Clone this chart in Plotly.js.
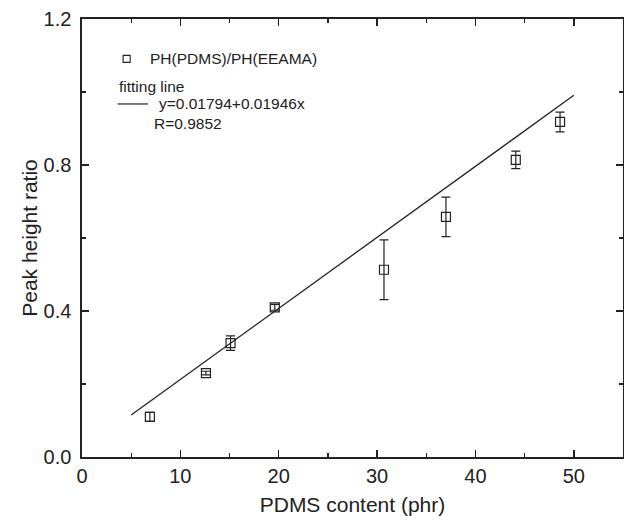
<!DOCTYPE html>
<html>
<head>
<meta charset="utf-8">
<script src="https://cdn.plot.ly/plotly-3.0.1.min.js"></script>
<style>html,body{margin:0;padding:0;background:#fff;}#chart{width:624px;height:520px;}</style>
</head>
<body>
<div id="chart"></div>
<script>
// PDMS content (phr)
const pdmsContent = [6.9, 12.6, 15.1, 19.6, 30.7, 37.0, 44.1, 48.6];
// Peak height ratio PH(PDMS)/PH(EEAMA)
const peakRatio = [0.110, 0.230, 0.312, 0.410, 0.513, 0.658, 0.814, 0.918];
const peakErr = [0.012, 0.005, 0.020, 0.008, 0.082, 0.054, 0.024, 0.027];
// fitting line y = a + b x, drawn over x from 5 to 50
const fitA = 0.01794, fitB = 0.01946;
const fitX = [5, 50];
const fitY = fitX.map(x => fitA + fitB * x);

const xTicks = [0, 10, 20, 30, 40, 50];
const yTicks = [0.0, 0.4, 0.8, 1.2];

const font = "Liberation Sans, Arial, sans-serif";

const traces = [
  {
    x: fitX, y: fitY, mode: 'lines', type: 'scatter',
    line: {color: '#222', width: 1.3}, hoverinfo: 'skip', showlegend: false
  },
  {
    x: pdmsContent, y: peakRatio, mode: 'markers', type: 'scatter',
    marker: {symbol: 'square-open', size: 9, color: '#222', line: {width: 1.2, color: '#222'}},
    error_y: {type: 'data', array: peakErr, visible: true, color: '#222', thickness: 1.2, width: 4.5},
    showlegend: false
  }
];

const axisCommon = {
  showgrid: false, zeroline: false, showline: true, linecolor: '#222', linewidth: 1.6,
  mirror: 'ticks', ticks: 'inside', ticklen: 7, tickwidth: 1.5, tickcolor: '#222',
  tickfont: {family: font, size: 20, color: '#222'}
};

const layout = {
  width: 624, height: 520,
  margin: {l: 82, r: 1, t: 19, b: 63},
  paper_bgcolor: '#fff', plot_bgcolor: '#fff',
  font: {family: font, color: '#222'},
  xaxis: Object.assign({}, axisCommon, {
    range: [0, 55], tickvals: xTicks, ticktext: xTicks.map(String),
    minor: {ticks: 'inside', dtick: 5, tick0: 0, ticklen: 4, tickwidth: 1.3, tickcolor: '#222'},
    title: {text: 'PDMS content (phr)', font: {family: font, size: 21, color: '#222'}, standoff: 12}
  }),
  yaxis: Object.assign({}, axisCommon, {
    range: [0, 1.2], tickvals: yTicks, ticktext: yTicks.map(v => v.toFixed(1)),
    ticklabelstandoff: 5,
    minor: {ticks: 'inside', dtick: 0.2, tick0: 0, ticklen: 4, tickwidth: 1.3, tickcolor: '#222'},
    title: {text: 'Peak height ratio', font: {family: font, size: 21, color: '#222'}, standoff: 0}
  }),
  shapes: [
    {type: 'rect', xref: 'paper', yref: 'paper', x0: 0.076, x1: 0.089, y0: 0.901, y1: 0.917,
     line: {color: '#222', width: 1.1}},
    {type: 'line', xref: 'paper', yref: 'paper', x0: 0.066, x1: 0.122, y0: 0.806, y1: 0.806,
     line: {color: '#222', width: 1.2}}
  ],
  annotations: [
    {xref: 'paper', yref: 'paper', x: 0.122, y: 0.909, xanchor: 'left', yanchor: 'middle',
     text: 'PH(PDMS)/PH(EEAMA)', showarrow: false, font: {family: font, size: 15.5, color: '#222'}},
    {xref: 'paper', yref: 'paper', x: 0.064, y: 0.847, xanchor: 'left', yanchor: 'middle',
     text: 'fitting line', showarrow: false, font: {family: font, size: 15.5, color: '#222'}},
    {xref: 'paper', yref: 'paper', x: 0.138, y: 0.806, xanchor: 'left', yanchor: 'middle',
     text: 'y=' + fitA + '+' + fitB + 'x', showarrow: false, font: {family: font, size: 15.5, color: '#222'}},
    {xref: 'paper', yref: 'paper', x: 0.129, y: 0.762, xanchor: 'left', yanchor: 'middle',
     text: 'R=0.9852', showarrow: false, font: {family: font, size: 15.5, color: '#222'}}
  ],
  showlegend: false
};

Plotly.newPlot('chart', traces, layout, {displayModeBar: false, staticPlot: true});
</script>
</body>
</html>
